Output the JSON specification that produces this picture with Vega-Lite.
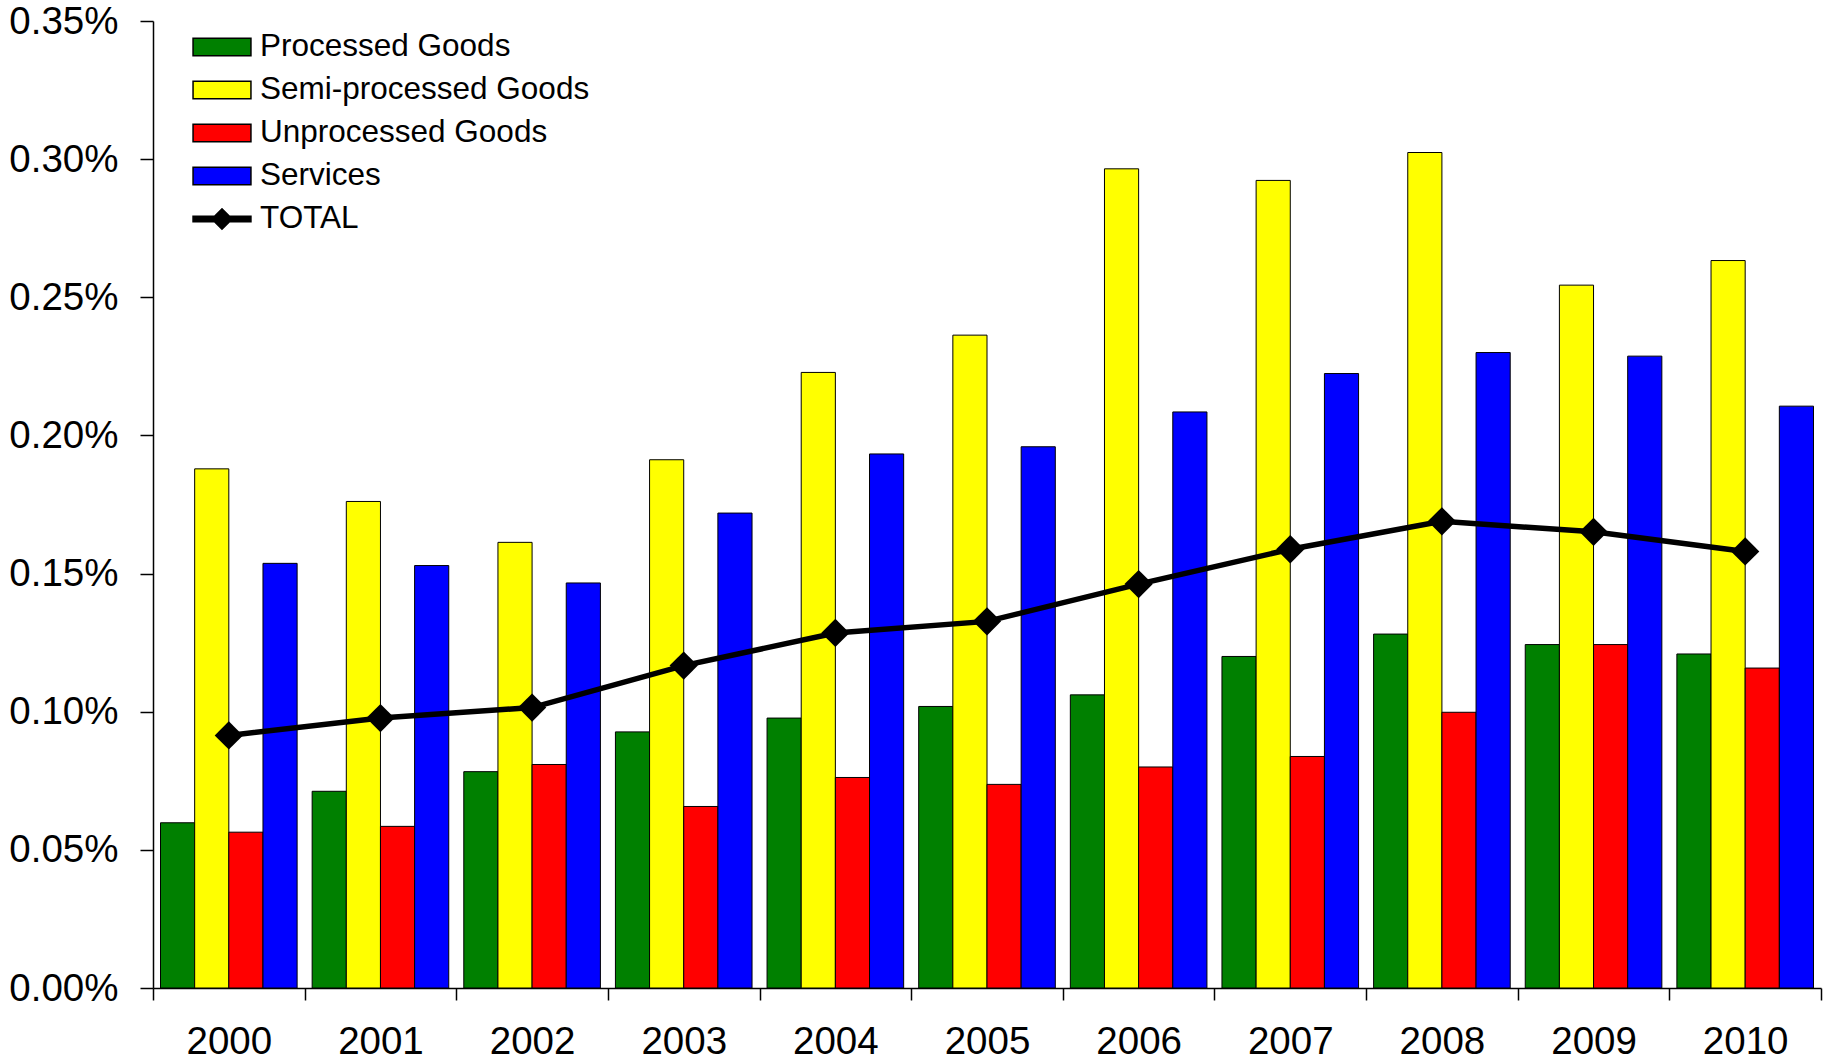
{
  "$schema": "https://vega.github.io/schema/vega-lite/v6.json",
  "autosize": {"type": "none"},
  "padding": {"left": 153, "top": 21, "right": 6, "bottom": 72},
  "width": 1668,
  "height": 967,
  "background": "white",
  "data": {
    "values": [
      {"year": "2000", "category": "Processed Goods", "value": 0.000598},
      {"year": "2000", "category": "Semi-processed Goods", "value": 0.001879},
      {"year": "2000", "category": "Unprocessed Goods", "value": 0.000564},
      {"year": "2000", "category": "Services", "value": 0.001537},
      {"year": "2000", "category": "TOTAL", "value": 0.000914},
      {"year": "2001", "category": "Processed Goods", "value": 0.000712},
      {"year": "2001", "category": "Semi-processed Goods", "value": 0.001761},
      {"year": "2001", "category": "Unprocessed Goods", "value": 0.000585},
      {"year": "2001", "category": "Services", "value": 0.001529},
      {"year": "2001", "category": "TOTAL", "value": 0.000977},
      {"year": "2002", "category": "Processed Goods", "value": 0.000783},
      {"year": "2002", "category": "Semi-processed Goods", "value": 0.001613},
      {"year": "2002", "category": "Unprocessed Goods", "value": 0.000809},
      {"year": "2002", "category": "Services", "value": 0.001466},
      {"year": "2002", "category": "TOTAL", "value": 0.001015},
      {"year": "2003", "category": "Processed Goods", "value": 0.000927},
      {"year": "2003", "category": "Semi-processed Goods", "value": 0.001912},
      {"year": "2003", "category": "Unprocessed Goods", "value": 0.000657},
      {"year": "2003", "category": "Services", "value": 0.001719},
      {"year": "2003", "category": "TOTAL", "value": 0.001167},
      {"year": "2004", "category": "Processed Goods", "value": 0.000977},
      {"year": "2004", "category": "Semi-processed Goods", "value": 0.002228},
      {"year": "2004", "category": "Unprocessed Goods", "value": 0.000762},
      {"year": "2004", "category": "Services", "value": 0.001933},
      {"year": "2004", "category": "TOTAL", "value": 0.001285},
      {"year": "2005", "category": "Processed Goods", "value": 0.001019},
      {"year": "2005", "category": "Semi-processed Goods", "value": 0.002363},
      {"year": "2005", "category": "Unprocessed Goods", "value": 0.000737},
      {"year": "2005", "category": "Services", "value": 0.001959},
      {"year": "2005", "category": "TOTAL", "value": 0.001327},
      {"year": "2006", "category": "Processed Goods", "value": 0.001061},
      {"year": "2006", "category": "Semi-processed Goods", "value": 0.002965},
      {"year": "2006", "category": "Unprocessed Goods", "value": 0.0008},
      {"year": "2006", "category": "Services", "value": 0.002085},
      {"year": "2006", "category": "TOTAL", "value": 0.001462},
      {"year": "2007", "category": "Processed Goods", "value": 0.0012},
      {"year": "2007", "category": "Semi-processed Goods", "value": 0.002923},
      {"year": "2007", "category": "Unprocessed Goods", "value": 0.000838},
      {"year": "2007", "category": "Services", "value": 0.002224},
      {"year": "2007", "category": "TOTAL", "value": 0.001588},
      {"year": "2008", "category": "Processed Goods", "value": 0.001281},
      {"year": "2008", "category": "Semi-processed Goods", "value": 0.003024},
      {"year": "2008", "category": "Unprocessed Goods", "value": 0.000998},
      {"year": "2008", "category": "Services", "value": 0.0023},
      {"year": "2008", "category": "TOTAL", "value": 0.001689},
      {"year": "2009", "category": "Processed Goods", "value": 0.001243},
      {"year": "2009", "category": "Semi-processed Goods", "value": 0.002544},
      {"year": "2009", "category": "Unprocessed Goods", "value": 0.001243},
      {"year": "2009", "category": "Services", "value": 0.002287},
      {"year": "2009", "category": "TOTAL", "value": 0.001651},
      {"year": "2010", "category": "Processed Goods", "value": 0.001209},
      {"year": "2010", "category": "Semi-processed Goods", "value": 0.002633},
      {"year": "2010", "category": "Unprocessed Goods", "value": 0.001158},
      {"year": "2010", "category": "Services", "value": 0.002106},
      {"year": "2010", "category": "TOTAL", "value": 0.00158}
    ]
  },
  "encoding": {
    "x": {
      "field": "year",
      "type": "nominal",
      "scale": {"paddingInner": 0, "paddingOuter": 0},
      "axis": {
        "title": null,
        "labelAngle": 0,
        "tickBand": "extent",
        "tickSize": 12,
        "tickColor": "black",
        "tickWidth": 1.5,
        "domainColor": "black",
        "domainWidth": 1.5,
        "labelFontSize": 38.5,
        "labelColor": "black",
        "labelPadding": 23
      }
    },
    "y": {
      "field": "value",
      "type": "quantitative",
      "scale": {"domain": [0, 0.0035], "nice": false},
      "axis": {
        "title": null,
        "format": ".2%",
        "values": [0, 0.0005, 0.001, 0.0015, 0.002, 0.0025, 0.003, 0.0035],
        "grid": false,
        "tickSize": 13,
        "tickColor": "black",
        "tickWidth": 1.5,
        "domainColor": "black",
        "domainWidth": 1.5,
        "labelFontSize": 38.5,
        "labelColor": "black",
        "labelPadding": 22
      }
    }
  },
  "layer": [
    {
      "transform": [{"filter": "datum.category !== 'TOTAL'"}],
      "mark": {"type": "bar", "stroke": "black", "strokeWidth": 1},
      "encoding": {
        "xOffset": {
          "field": "category",
          "type": "nominal",
          "sort": ["Processed Goods", "Semi-processed Goods", "Unprocessed Goods", "Services"],
          "scale": {"paddingInner": 0, "paddingOuter": 0.22}
        },
        "color": {
          "field": "category",
          "type": "nominal",
          "scale": {
            "domain": ["Processed Goods", "Semi-processed Goods", "Unprocessed Goods", "Services", "TOTAL"],
            "range": ["#008000", "#FFFF00", "#FF0000", "#0000FF", "#000000"]
          },
          "legend": {
            "title": null,
            "orient": "none",
            "legendX": 53,
            "legendY": 10,
            "labelFontSize": 31.5,
            "labelColor": "black",
            "labelLimit": 0,
            "labelOffset": 22,
            "rowPadding": 11,
            "symbolSize": 900,
            "symbolStrokeColor": "black",
            "symbolStrokeWidth": 1.5,
            "encode": {
              "symbols": {
                "update": {
                  "shape": [
                    {"test": "datum.value === 'TOTAL'", "value": "M-1.93,-0.18H1.93V0.18H-1.93Z M-0.68,0L0,-0.68L0.68,0L0,0.68Z"},
                    {"value": "M-1.93,-0.58H1.93V0.58H-1.93Z"}
                  ],
                  "size": {"value": 900},
                  "fill": {"scale": "color", "field": "value"},
                  "stroke": {"value": "black"},
                  "strokeWidth": {"value": 1.5},
                  "opacity": {"value": 1},
                  "fillOpacity": {"value": 1}
                }
              }
            }
          }
        }
      }
    },
    {
      "transform": [{"filter": "datum.category === 'TOTAL'"}],
      "mark": {"type": "line", "color": "black", "strokeWidth": 5.5},
      "encoding": {}
    },
    {
      "transform": [{"filter": "datum.category === 'TOTAL'"}],
      "mark": {"type": "point", "shape": "diamond", "filled": true, "color": "black", "opacity": 1, "size": 800},
      "encoding": {}
    }
  ],
  "config": {
    "font": "Liberation Sans",
    "view": {"stroke": null}
  }
}
